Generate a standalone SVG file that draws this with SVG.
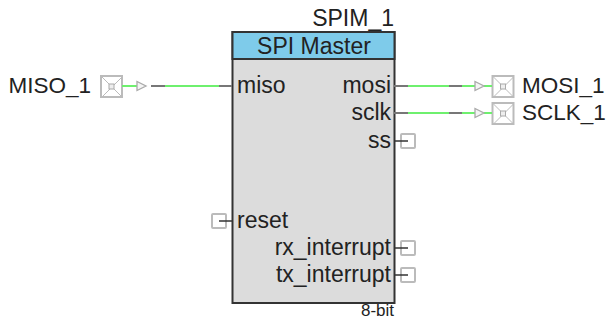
<svg xmlns="http://www.w3.org/2000/svg" width="607" height="320" viewBox="0 0 607 320">
<style>
text{font-family:"Liberation Sans",Arial,sans-serif;font-size:23px;fill:#222}
.o{font-size:22.500px}
.e{text-anchor:end}
.g{stroke:#6ef06e;stroke-width:2;fill:none}
.d{stroke:#777;stroke-width:2;fill:none}
.k{stroke:#333;stroke-width:1.5;fill:none}
.b{fill:#fff;stroke:#bbb;stroke-width:2}
.p{fill:#f4f4f4;stroke:#aaa;stroke-width:1.3}
.x{stroke:#bbb;stroke-width:1;fill:none}
</style>
<defs>
<g id="pin"><rect class="b" x="0" y="0" width="21" height="21"/><path class="x" d="M1 1L21 21M21 1L1 21"/><rect x="8" y="8" width="5" height="5" fill="#eee" stroke="#aaa"/></g>
<rect id="term" class="b" x="0" y="0" width="14" height="14" rx="1"/>
</defs>
<g id="SPIM_1">
<rect x="232.500" y="32" width="162" height="271" fill="#dcdcdc" stroke="#333" stroke-width="2"/>
<rect x="232.500" y="32" width="162" height="27" fill="#7ecbea" stroke="#333" stroke-width="2"/>
<text x="394" y="26" class="e">SPIM_1</text>
<text x="314" y="54" text-anchor="middle">SPI Master</text>
<text x="237" y="93">miso</text>
<text x="391" y="93" class="e">mosi</text>
<text x="391" y="120" class="e">sclk</text>
<text x="391" y="148" class="e">ss</text>
<text x="237" y="228">reset</text>
<text x="391" y="255" class="e">rx_interrupt</text>
<text x="391" y="282" class="e">tx_interrupt</text>
<text x="394" y="316" class="e" style="font-size:17px">8-bit</text>
</g>
<g id="MISO_1"><use href="#pin" x="101" y="76"/><text x="91" y="93" class="e o">MISO_1</text></g>
<g id="MOSI_1"><use href="#pin" x="492.500" y="76"/><text x="522" y="93" class="o">MOSI_1</text></g>
<g id="SCLK_1"><use href="#pin" x="492.500" y="103"/><text x="522" y="120" class="o">SCLK_1</text></g>
<g id="ss_term"><use href="#term" x="401" y="134"/></g>
<g id="reset_term"><use href="#term" x="212" y="214"/></g>
<g id="rx_term"><use href="#term" x="401" y="241"/></g>
<g id="tx_term"><use href="#term" x="401" y="268"/></g>
<g id="connectors">
<path class="g" d="M122 86H137M165 86H219"/><path class="d" d="M151 86H165M219 86H232"/><path class="p" d="M137 81.500L137 90.500L146 86Z"/>
<path class="d" d="M394 86H408M449 86H462"/><path class="g" d="M408 86H449M462 86H475M484 86H492"/><path class="p" d="M475 81.500L475 90.500L484 86Z"/>
<path class="d" d="M394 113H408M449 113H462"/><path class="g" d="M408 113H449M462 113H475M484 113H492"/><path class="p" d="M475 108.500L475 117.500L484 113Z"/>
<path class="k" d="M394 141H408M219 221H232M394 248H408M394 275H408"/>
</g>
</svg>
